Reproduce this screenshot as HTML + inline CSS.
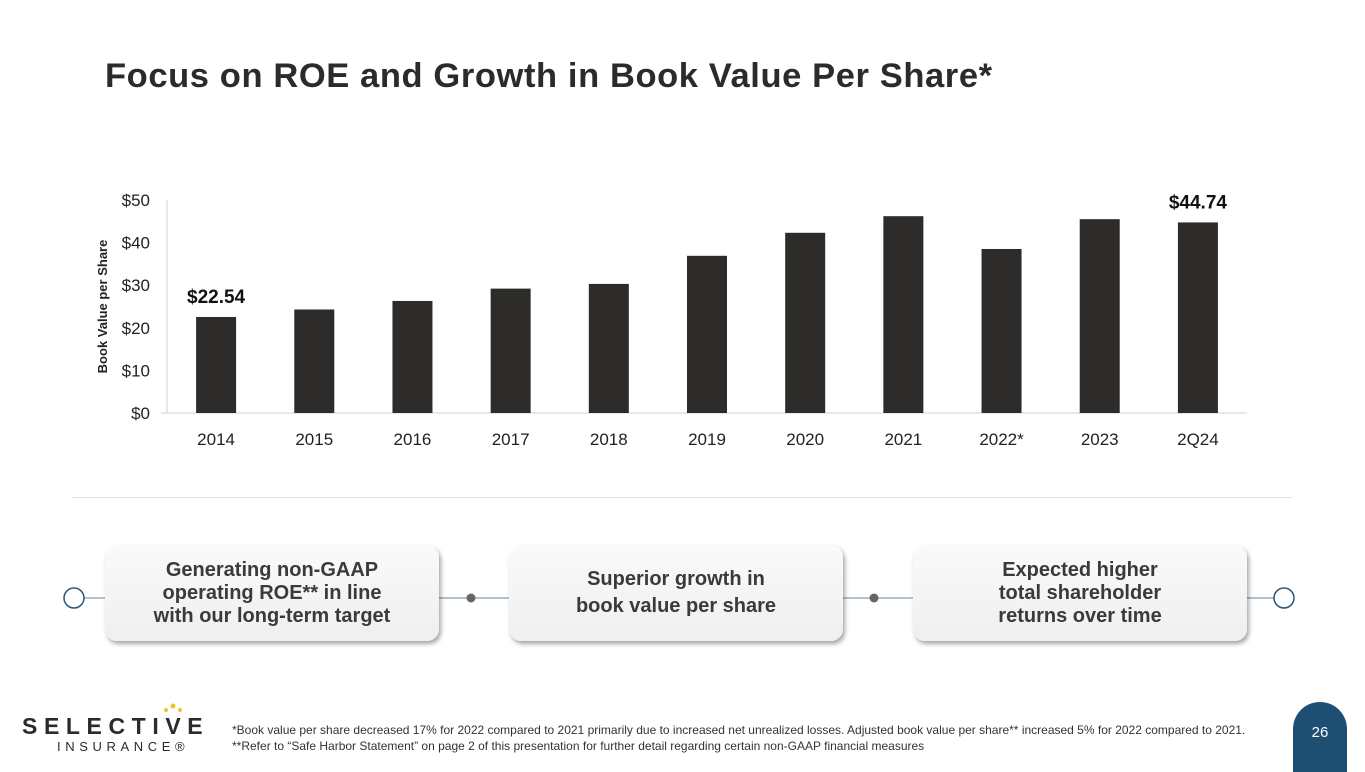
<!DOCTYPE html>
<html><head><meta charset="utf-8"><style>
body{margin:0;width:1365px;height:768px;background:#fff;position:relative;overflow:hidden;font-family:"Liberation Sans",sans-serif;}
.abs{position:absolute}
h1{position:absolute;left:105px;top:57px;margin:0;font-size:34.5px;font-weight:bold;color:#2b2b2b;letter-spacing:0.6px}
.box{position:absolute;top:545px;width:334px;height:96px;border-radius:12px;background:linear-gradient(#fafafa,#efefef);box-shadow:2px 3px 4px rgba(0,0,0,0.35);display:flex;align-items:center;justify-content:center;text-align:center;font-weight:bold;font-size:20px;line-height:23px;color:#3a3a3a}
</style></head><body>
<h1>Focus on ROE and Growth in Book Value Per Share*</h1>
<svg class="abs" style="left:0;top:0" width="1365" height="500">
<g id="g"></g>
</svg>
<div class="abs" style="left:72px;top:497px;width:1220px;height:1px;background:#e2e2e2"></div>
<svg class="abs" style="left:0;top:580px" width="1365" height="40">
<line x1="84" y1="18" x2="1274" y2="18" stroke="#5d8aa8" stroke-width="1"/>
<circle cx="74" cy="18" r="10" fill="#fff" stroke="#2d5573" stroke-width="1.5"/>
<circle cx="1284" cy="18" r="10" fill="#fff" stroke="#2d5573" stroke-width="1.5"/>
<circle cx="471" cy="18" r="4.5" fill="#666"/>
<circle cx="874" cy="18" r="4.5" fill="#666"/>
</svg>
<div class="box" style="left:105px">Generating non-GAAP<br>operating ROE** in line<br>with our long-term target</div>
<div class="box" style="left:509px;line-height:27px">Superior growth in<br>book value per share</div>
<div class="box" style="left:913px">Expected higher<br>total shareholder<br>returns over time</div>
<div class="abs" style="left:22px;top:713px;font-size:23px;font-weight:bold;letter-spacing:6.6px;color:#2b2b2b">SELECTIVE</div>
<div class="abs" style="left:57px;top:739px;font-size:13px;letter-spacing:4.6px;color:#2b2b2b">INSURANCE®</div>
<svg class="abs" style="left:160px;top:701px" width="30" height="14"><circle cx="6" cy="9" r="2" fill="#f3c02c"/><circle cx="13" cy="5" r="2.5" fill="#f3c02c"/><circle cx="20" cy="9" r="2" fill="#f3c02c"/></svg>
<div class="abs" style="left:232px;top:722px;font-size:12px;line-height:16px;color:#333">*Book value per share decreased 17% for 2022 compared to 2021 primarily due to increased net unrealized losses. Adjusted book value per share** increased 5% for 2022 compared to 2021.<br>**Refer to “Safe Harbor Statement” on page 2 of this presentation for further detail regarding certain non-GAAP financial measures</div>
<div class="abs" style="left:1293px;top:702px;width:54px;height:70px;border-radius:27px 27px 0 0;background:#1e4f72;color:#fff;font-size:15px;text-align:center;line-height:62px">26</div>
<script>
const categories=["2014","2015","2016","2017","2018","2019","2020","2021","2022*","2023","2Q24"];
const values=[22.54,24.3,26.3,29.2,30.3,36.9,42.3,46.2,38.5,45.5,44.74];
const ticks=[0,10,20,30,40,50];
const labels=["$22.54","","","","","","","","","","$44.74"];
const NS="http://www.w3.org/2000/svg";
const g=document.getElementById('g');
const x0=167,x1=1247,yZero=413,yTop=200;
const y=v=>yZero-(v/50)*(yZero-yTop);
const step=(x1-x0)/categories.length;
const xc=i=>x0+step*(i+0.5);
function mk(t,a,txt){const e=document.createElementNS(NS,t);for(const k in a)e.setAttribute(k,a[k]);if(txt!==undefined)e.textContent=txt;g.appendChild(e);return e;}
let e=mk('line',{x1:x0,y1:yTop,x2:x0,y2:yZero,stroke:'#d0d0d0'});


e=mk('line',{x1:x0-6,y1:yZero,x2:x1,y2:yZero,stroke:'#d0d0d0'});


ticks.forEach(t=>{const l=mk('text',{x:x0-17,y:y(t)+6,'text-anchor':'end','font-size':17,fill:'#222'},'$'+t);

});
e=mk('text',{x:0,y:0,transform:`translate(107,${(yZero+yTop)/2}) rotate(-90)`,'text-anchor':'middle','font-size':13,'font-weight':'bold',fill:'#222'},'Book Value per Share');


categories.forEach((c,i)=>{
const b=mk('rect',{x:xc(i)-20,y:y(values[i]),width:40,height:yZero-y(values[i]),fill:'#2d2c2b'});


const t=mk('text',{x:xc(i),y:445,'text-anchor':'middle','font-size':17,fill:'#222'},c);


if(labels[i]){const v=mk('text',{x:xc(i),y:y(values[i])-14,'text-anchor':'middle','font-size':19,'font-weight':'bold',fill:'#111'},labels[i]);

}
});
</script>
</body></html>
